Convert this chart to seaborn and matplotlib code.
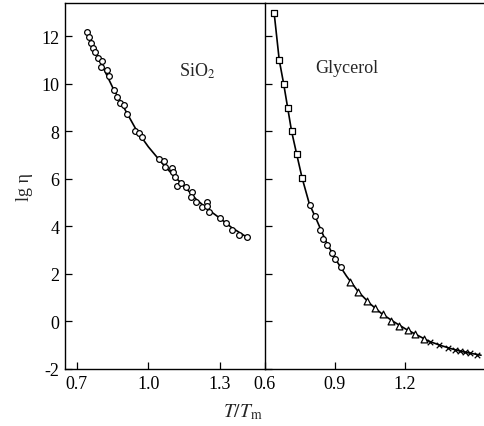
import matplotlib
matplotlib.use("Agg")
import matplotlib.pyplot as plt
import seaborn as sns
import pandas as pd

# ---- data ----
sio2_x = [0.741, 0.752, 0.759, 0.766, 0.777, 0.789, 0.806, 0.801, 0.825, 0.833, 0.855, 0.867,
          0.880, 0.897, 0.909, 0.943, 0.959, 0.974, 1.043, 1.064, 1.068, 1.099, 1.102, 1.110,
          1.120, 1.136, 1.159, 1.183, 1.178, 1.202, 1.226, 1.247, 1.245, 1.255, 1.300, 1.325,
          1.352, 1.381, 1.415]
sio2_y = [12.20, 11.95, 11.72, 11.51, 11.33, 11.10, 10.95, 10.72, 10.58, 10.32, 9.76, 9.45,
          9.20, 9.10, 8.74, 8.00, 7.93, 7.76, 6.82, 6.76, 6.51, 6.46, 6.29, 6.08,
          5.72, 5.83, 5.67, 5.46, 5.25, 5.04, 4.82, 5.04, 4.85, 4.61, 4.35, 4.14,
          3.86, 3.64, 3.54]
sio2_fit_x = [0.741, 0.80, 0.85, 0.90, 0.95, 1.00, 1.05, 1.10, 1.15, 1.20, 1.25, 1.30, 1.35, 1.415]
sio2_fit_y = [12.20, 10.90, 9.85, 8.95, 8.05, 7.35, 6.75, 6.20, 5.70, 5.15, 4.72, 4.35, 3.95, 3.54]

gly_sq_x = [0.639, 0.661, 0.680, 0.697, 0.714, 0.736, 0.758]
gly_sq_y = [12.99, 11.00, 10.01, 9.00, 8.01, 7.03, 6.03]
gly_ci_x = [0.793, 0.814, 0.836, 0.849, 0.867, 0.886, 0.901, 0.924]
gly_ci_y = [4.89, 4.44, 3.85, 3.49, 3.21, 2.90, 2.64, 2.29]
gly_tr_x = [0.964, 1.000, 1.036, 1.070, 1.107, 1.140, 1.174, 1.212, 1.244, 1.280]
gly_tr_y = [1.68, 1.24, 0.86, 0.58, 0.30, 0.04, -0.17, -0.36, -0.54, -0.72]
gly_x_x = [1.307, 1.346, 1.383, 1.414, 1.436, 1.457, 1.479, 1.510]
gly_x_y = [-0.86, -1.00, -1.10, -1.21, -1.24, -1.29, -1.32, -1.39]
gly_fit_x = [0.639, 0.661, 0.680, 0.697, 0.714, 0.736, 0.759, 0.79, 0.82, 0.86, 0.90, 0.95,
             1.00, 1.05, 1.10, 1.15, 1.20, 1.25, 1.30, 1.35, 1.40, 1.45, 1.526]
gly_fit_y = [13.0, 11.0, 10.0, 9.0, 8.0, 7.03, 6.04, 4.95, 4.30, 3.40, 2.65, 1.90,
             1.25, 0.75, 0.33, 0.0, -0.30, -0.56, -0.82, -1.00, -1.15, -1.28, -1.42]

left_ticks = [0.7, 1.0, 1.3]
right_ticks = [0.6, 0.9, 1.2]
y_ticks = [-2, 0, 2, 4, 6, 8, 10, 12]

# ---- style ----
sns.set_style("ticks")
plt.rcParams['font.family'] = ['Liberation Serif', 'DejaVu Serif']
plt.rcParams['mathtext.fontset'] = 'stix'
plt.rcParams['font.size'] = 13

fig = plt.figure(figsize=(4.85, 4.27), dpi=100)
W, H = 485.0, 427.0
bottom = 1 - 370 / H
top = 1 - 4 / H
axL = fig.add_axes([65 / W, bottom, (265 - 65) / W, top - bottom])
axR = fig.add_axes([265 / W, bottom, (485 - 265) / W, top - bottom])

lw = 1.2
mk = dict(facecolor='white', edgecolor='black', linewidth=0.9, zorder=3)

# left panel
sns.lineplot(x=sio2_fit_x, y=sio2_fit_y, ax=axL, color='black', lw=lw, sort=False)
sns.scatterplot(x=sio2_x, y=sio2_y, ax=axL, marker='o', s=17, **mk)
axL.set_xlim(0.65, 1.49)
axL.set_ylim(-1.85, 13.4)
axL.set_xticks(left_ticks)
axL.set_xticklabels([f"{t:.1f}" for t in left_ticks])
axL.set_yticks(y_ticks)
axL.set_yticklabels([str(t) for t in y_ticks])
axL.text(0.57, 0.815, r"SiO$_2$", transform=axL.transAxes, fontsize=13, ha='left', va='center')
axL.set_ylabel("lg η", fontsize=13, labelpad=6)

# right panel
sns.lineplot(x=gly_fit_x, y=gly_fit_y, ax=axR, color='black', lw=lw, sort=False)
sns.scatterplot(x=gly_sq_x, y=gly_sq_y, ax=axR, marker='s', s=15, **mk)
sns.scatterplot(x=gly_ci_x, y=gly_ci_y, ax=axR, marker='o', s=17, **mk)
sns.scatterplot(x=gly_tr_x, y=gly_tr_y, ax=axR, marker='^', s=24, **mk)
sns.scatterplot(x=gly_x_x, y=gly_x_y, ax=axR, marker='x', s=16, color='black', linewidth=0.9, zorder=3)
axR.set_xlim(0.6, 1.543)
axR.set_ylim(-1.85, 13.4)
axR.set_xticks(right_ticks)
axR.set_xticklabels([f"{t:.1f}" for t in right_ticks])
axR.set_yticks(y_ticks)
axR.tick_params(axis='y', labelleft=False)
axR.text(0.23, 0.825, "Glycerol", transform=axR.transAxes, fontsize=13, ha='left', va='center')

for ax in (axL, axR):
    ax.tick_params(direction='in', length=5, width=0.9, colors='black', labelsize=13, pad=4)
    ax.tick_params(top=False, right=False)
    for s in ax.spines.values():
        s.set_linewidth(1.0)
        s.set_color('black')
axL.spines['right'].set_visible(False)
axR.spines['right'].set_visible(False)

fig.text(0.5, 0.035, r"$T/T_{\rm m}$", ha='center', va='center', fontsize=14)

fig.savefig("out.png", dpi=100)
